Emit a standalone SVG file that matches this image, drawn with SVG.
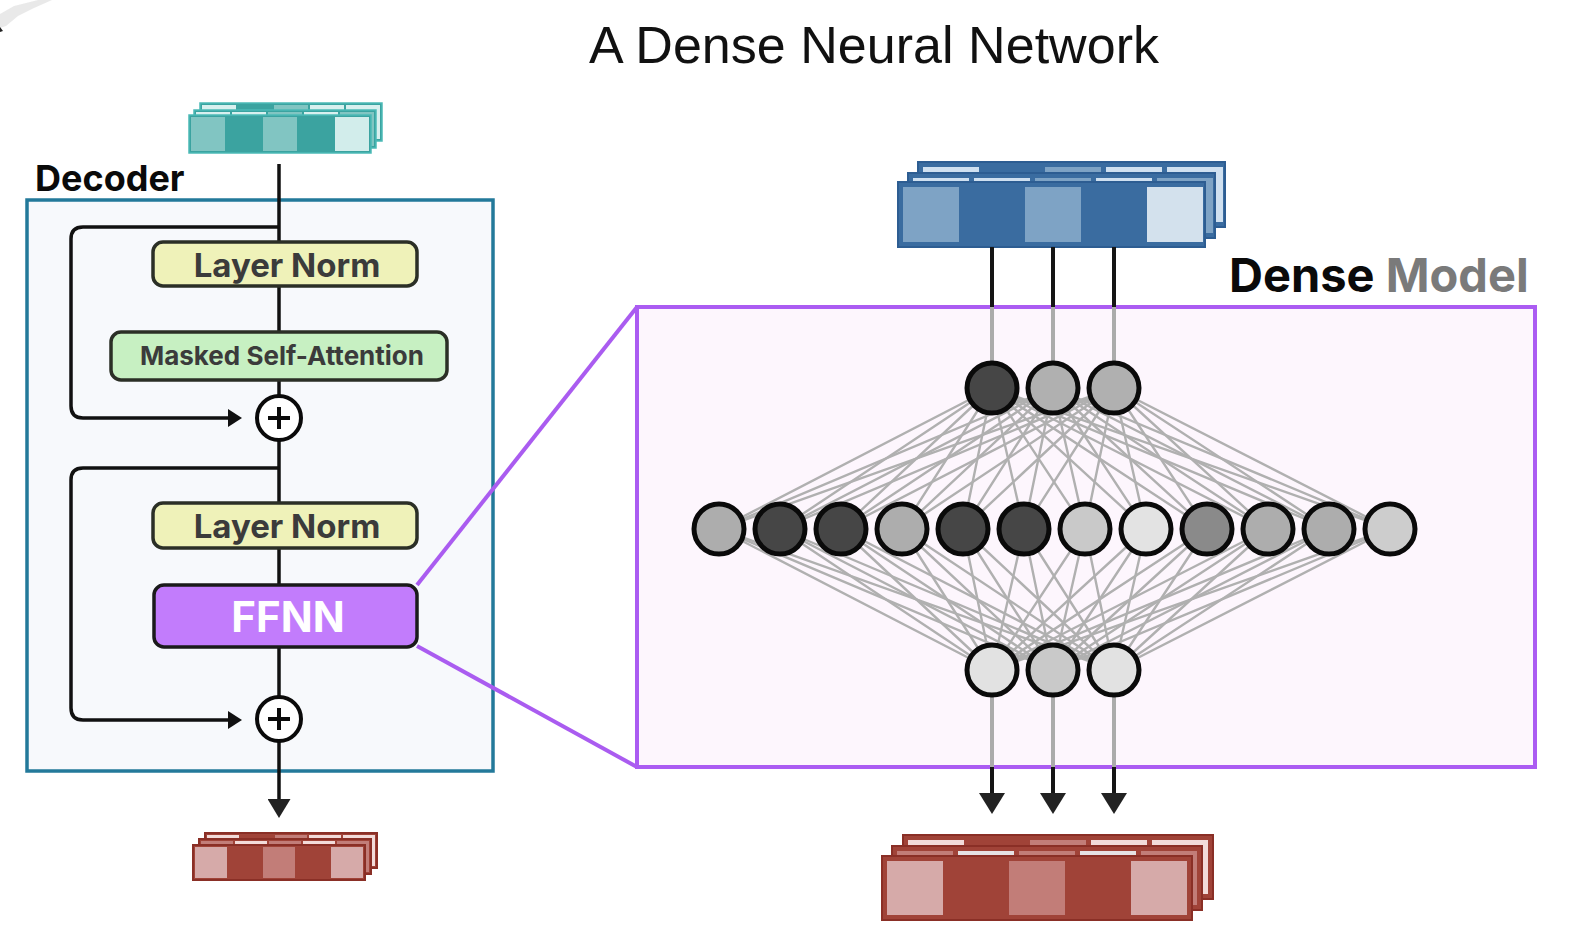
<svg xmlns="http://www.w3.org/2000/svg" width="1590" height="931" viewBox="0 0 1590 931">
<style>
.title{font-family:"Liberation Sans",Arial,sans-serif;font-size:52px;fill:#111}
.lbl{font-family:Inter,"Liberation Sans",Arial,sans-serif;font-weight:700;fill:#3b3b3b;text-anchor:middle}
.box{stroke:#2b2f26;stroke-width:3.5}
.ln{stroke:#111;stroke-width:3.5;fill:none}
.gry{stroke:#b0b0b0;stroke-width:2.4;fill:none}
.vg{stroke:#ababab;stroke-width:4;fill:none}
.vb{stroke:#151515;stroke-width:4;fill:none}
.nd{stroke:#0a0a0a;stroke-width:5}
.pur{stroke:#aa5cf0;stroke-width:4;fill:none}
.b-bg{fill:#3a6ca0;stroke:#2d5d92;stroke-width:2}
.b-d{fill:#3a6ca0}.b-m{fill:#7ea3c5}.b-l{fill:#d3e1ed}.b-s{fill:#cfe0f0}
.t-bg{fill:#3ba3a0;stroke:#4cbab7;stroke-width:1.5}
.t-d{fill:#3ba3a0}.t-m{fill:#81c5c2}.t-l{fill:#d2edeb}.t-s{fill:#d8f0ef}
.r-bg{fill:#a04338;stroke:#8a2f26;stroke-width:2}
.r-d{fill:#a04338}.r-m{fill:#c27d78}.r-l{fill:#d6aaa9}.r-s{fill:#f2dbd9}
</style>
<defs>
<marker id="ahS" markerUnits="userSpaceOnUse" markerWidth="14" markerHeight="18" refX="0" refY="9" orient="auto"><path d="M0,0 L14,9 L0,18 z" fill="#111"/></marker>
<marker id="ahM" markerUnits="userSpaceOnUse" markerWidth="19" markerHeight="23" refX="0" refY="11.5" orient="auto"><path d="M0,0 L19,11.5 L0,23 z" fill="#222"/></marker>
<marker id="ahL" markerUnits="userSpaceOnUse" markerWidth="21" markerHeight="26" refX="0" refY="13" orient="auto"><path d="M0,0 L21,13 L0,26 z" fill="#222"/></marker>
</defs>
<rect width="1590" height="931" fill="#fff"/>
<path d="M0,14 L14,6 L38,0 L52,0 L34,8 L18,16 L6,26 L0,28 z" fill="#e0e0e0" opacity="0.7"/>
<path d="M0,27 L3,31 L0,32 z" fill="#222"/>

<text class="title" x="874" y="63" text-anchor="middle" textLength="570">A Dense Neural Network</text>

<!-- Decoder -->
<g id="decoder">
<text x="35" y="191" font-family="Inter,'Liberation Sans',Arial,sans-serif" font-weight="700" font-size="36" fill="#0a0a0a">Decoder</text>
<rect x="27" y="200" width="466" height="571" fill="#f7f9fc" stroke="#23799a" stroke-width="3.5"/>
</g>

<!-- input teal tensor -->
<g id="input-tensor">
<g transform="translate(200,103)"><rect class="t-bg" width="182" height="38"/><rect class="t-s" x="2" y="2" width="34" height="34"/><rect class="t-d" x="38" y="2" width="34" height="34"/><rect class="t-m" x="74" y="2" width="34" height="34"/><rect class="t-s" x="110" y="2" width="34" height="34"/><rect class="t-s" x="146" y="2" width="34" height="34"/></g>
<g transform="translate(194,110)"><rect class="t-bg" width="182" height="38"/><rect class="t-s" x="2" y="2" width="34" height="34"/><rect class="t-s" x="38" y="2" width="34" height="34"/><rect class="t-m" x="74" y="2" width="34" height="34"/><rect class="t-s" x="110" y="2" width="34" height="34"/><rect class="t-m" x="146" y="2" width="34" height="34"/></g>
<g transform="translate(189,115)"><rect class="t-bg" width="182" height="38"/><rect class="t-m" x="2" y="2" width="34" height="34"/><rect class="t-m" x="74" y="2" width="34" height="34"/><rect class="t-l" x="146" y="2" width="34" height="34"/></g>
</g>

<!-- decoder connectors -->
<g id="decoder-connectors">
<path class="ln" d="M279,164 V799" marker-end="url(#ahM)"/>
<path class="ln" d="M279,227 H83 Q71,227 71,239 V406 Q71,418 83,418 H228" marker-end="url(#ahS)"/>
<path class="ln" d="M279,468 H83 Q71,468 71,480 V708 Q71,720 83,720 H228" marker-end="url(#ahS)"/>
</g>

<g id="layernorm1"><rect class="box" x="153" y="242" width="264" height="44" rx="10" fill="#eff2b9"/><text class="lbl" x="287" y="277" font-size="33">Layer Norm</text></g>
<g id="masked-attn"><rect class="box" x="111" y="332" width="336" height="48" rx="10" fill="#c7f0c2"/><text class="lbl" x="282" y="365" font-size="26">Masked Self-Attention</text></g>
<g id="add1"><circle cx="279" cy="418" r="22" fill="#fff" stroke="#0a0a0a" stroke-width="4"/><path d="M268,418 H290 M279,407 V429" stroke="#0a0a0a" stroke-width="4"/></g>
<g id="layernorm2"><rect class="box" x="153" y="503" width="264" height="45" rx="10" fill="#eff2b9"/><text class="lbl" x="287" y="538" font-size="33">Layer Norm</text></g>
<g id="ffnn"><rect x="154" y="585" width="263" height="62" rx="10" fill="#c27cfc" stroke="#1a1a1a" stroke-width="3.5"/><text x="288" y="632" font-family="Inter,'Liberation Sans',Arial,sans-serif" font-weight="700" font-size="42" fill="#fff" text-anchor="middle">FFNN</text></g>
<g id="add2"><circle cx="279" cy="719" r="22" fill="#fff" stroke="#0a0a0a" stroke-width="4"/><path d="M268,719 H290 M279,708 V730" stroke="#0a0a0a" stroke-width="4"/></g>

<!-- output red tensor small -->
<g id="output-tensor">
<g transform="translate(205,833)"><rect class="r-bg" width="172" height="35"/><rect class="r-s" x="2" y="2" width="32" height="31"/><rect class="r-d" x="36" y="2" width="32" height="31"/><rect class="r-m" x="70" y="2" width="32" height="31"/><rect class="r-s" x="104" y="2" width="32" height="31"/><rect class="r-s" x="138" y="2" width="32" height="31"/></g>
<g transform="translate(199,839)"><rect class="r-bg" width="172" height="35"/><rect class="r-m" x="2" y="2" width="32" height="31"/><rect class="r-s" x="36" y="2" width="32" height="31"/><rect class="r-m" x="70" y="2" width="32" height="31"/><rect class="r-s" x="104" y="2" width="32" height="31"/><rect class="r-m" x="138" y="2" width="32" height="31"/></g>
<g transform="translate(193,845)"><rect class="r-bg" width="172" height="35"/><rect class="r-l" x="2" y="2" width="32" height="31"/><rect class="r-m" x="70" y="2" width="32" height="31"/><rect class="r-l" x="138" y="2" width="32" height="31"/></g>
</g>

<!-- zoom lines -->
<g id="zoom-lines">
<path class="pur" d="M417,585 L637,307"/>
<path class="pur" d="M417,646 L637,767"/>
</g>

<!-- Dense model -->
<g id="dense-model">
<rect x="637" y="307" width="898" height="460" fill="#fdf6fd" stroke="#ab5cf2" stroke-width="4"/>
<text x="1229" y="292" font-family="Inter,'Liberation Sans',Arial,sans-serif" font-weight="700" font-size="47"><tspan fill="#0a0a0a">Dense</tspan><tspan fill="#7a7a7a"> Model</tspan></text>
</g>

<!-- blue tensor -->
<g id="dense-input">
<g transform="translate(918,162)"><rect class="b-bg" width="307" height="65"/><rect class="b-s" x="5" y="5" width="56" height="55"/><rect class="b-d" x="66" y="5" width="56" height="55"/><rect class="b-m" x="127" y="5" width="56" height="55"/><rect class="b-s" x="188" y="5" width="56" height="55"/><rect class="b-s" x="249" y="5" width="56" height="55"/></g>
<g transform="translate(908,173)"><rect class="b-bg" width="307" height="65"/><rect class="b-s" x="5" y="5" width="56" height="55"/><rect class="b-s" x="66" y="5" width="56" height="55"/><rect class="b-m" x="127" y="5" width="56" height="55"/><rect class="b-s" x="188" y="5" width="56" height="55"/><rect class="b-m" x="249" y="5" width="56" height="55"/></g>
<g transform="translate(898,182)"><rect class="b-bg" width="307" height="65"/><rect class="b-m" x="5" y="5" width="56" height="55"/><rect class="b-m" x="127" y="5" width="56" height="55"/><rect class="b-l" x="249" y="5" width="56" height="55"/></g>
</g>

<!-- connectors -->
<g id="connectors">
<path class="vb" d="M992,247 V307 M1053,247 V307 M1114,247 V307"/>
<path class="vg" d="M992,307 V388 M1053,307 V388 M1114,307 V388"/>
<path class="vg" d="M992,670 V767 M1053,670 V767 M1114,670 V767"/>
<path class="vb" d="M992,767 V793" marker-end="url(#ahL)"/>
<path class="vb" d="M1053,767 V793" marker-end="url(#ahL)"/>
<path class="vb" d="M1114,767 V793" marker-end="url(#ahL)"/>
<g class="gry">
<path d="M992,388 L719,529 M992,388 L780,529 M992,388 L841,529 M992,388 L902,529 M992,388 L963,529 M992,388 L1024,529 M992,388 L1085,529 M992,388 L1146,529 M992,388 L1207,529 M992,388 L1268,529 M992,388 L1329,529 M992,388 L1390,529"/>
<path d="M1053,388 L719,529 M1053,388 L780,529 M1053,388 L841,529 M1053,388 L902,529 M1053,388 L963,529 M1053,388 L1024,529 M1053,388 L1085,529 M1053,388 L1146,529 M1053,388 L1207,529 M1053,388 L1268,529 M1053,388 L1329,529 M1053,388 L1390,529"/>
<path d="M1114,388 L719,529 M1114,388 L780,529 M1114,388 L841,529 M1114,388 L902,529 M1114,388 L963,529 M1114,388 L1024,529 M1114,388 L1085,529 M1114,388 L1146,529 M1114,388 L1207,529 M1114,388 L1268,529 M1114,388 L1329,529 M1114,388 L1390,529"/>
<path d="M992,670 L719,529 M992,670 L780,529 M992,670 L841,529 M992,670 L902,529 M992,670 L963,529 M992,670 L1024,529 M992,670 L1085,529 M992,670 L1146,529 M992,670 L1207,529 M992,670 L1268,529 M992,670 L1329,529 M992,670 L1390,529"/>
<path d="M1053,670 L719,529 M1053,670 L780,529 M1053,670 L841,529 M1053,670 L902,529 M1053,670 L963,529 M1053,670 L1024,529 M1053,670 L1085,529 M1053,670 L1146,529 M1053,670 L1207,529 M1053,670 L1268,529 M1053,670 L1329,529 M1053,670 L1390,529"/>
<path d="M1114,670 L719,529 M1114,670 L780,529 M1114,670 L841,529 M1114,670 L902,529 M1114,670 L963,529 M1114,670 L1024,529 M1114,670 L1085,529 M1114,670 L1146,529 M1114,670 L1207,529 M1114,670 L1268,529 M1114,670 L1329,529 M1114,670 L1390,529"/>
</g>
</g>

<!-- neurons -->
<g id="layer-in">
<circle class="nd" cx="992" cy="388" r="25" fill="#464646"/>
<circle class="nd" cx="1053" cy="388" r="25" fill="#b0b0b0"/>
<circle class="nd" cx="1114" cy="388" r="25" fill="#b0b0b0"/>
</g>
<g id="layer-hidden">
<circle class="nd" cx="719" cy="529" r="25" fill="#adadad"/>
<circle class="nd" cx="780" cy="529" r="25" fill="#464646"/>
<circle class="nd" cx="841" cy="529" r="25" fill="#464646"/>
<circle class="nd" cx="902" cy="529" r="25" fill="#adadad"/>
<circle class="nd" cx="963" cy="529" r="25" fill="#464646"/>
<circle class="nd" cx="1024" cy="529" r="25" fill="#464646"/>
<circle class="nd" cx="1085" cy="529" r="25" fill="#c9c9c9"/>
<circle class="nd" cx="1146" cy="529" r="25" fill="#e3e3e3"/>
<circle class="nd" cx="1207" cy="529" r="25" fill="#8a8a8a"/>
<circle class="nd" cx="1268" cy="529" r="25" fill="#adadad"/>
<circle class="nd" cx="1329" cy="529" r="25" fill="#adadad"/>
<circle class="nd" cx="1390" cy="529" r="25" fill="#cdcdcd"/>
</g>
<g id="layer-out">
<circle class="nd" cx="992" cy="670" r="25" fill="#e2e2e2"/>
<circle class="nd" cx="1053" cy="670" r="25" fill="#c9c9c9"/>
<circle class="nd" cx="1114" cy="670" r="25" fill="#e2e2e2"/>
</g>

<!-- big red output tensor -->
<g id="dense-output">
<g transform="translate(903,835)"><rect class="r-bg" width="310" height="64"/><rect class="r-s" x="5" y="5" width="56" height="54"/><rect class="r-d" x="66" y="5" width="56" height="54"/><rect class="r-m" x="127" y="5" width="56" height="54"/><rect class="r-s" x="188" y="5" width="56" height="54"/><rect class="r-s" x="249" y="5" width="56" height="54"/></g>
<g transform="translate(892,846)"><rect class="r-bg" width="310" height="64"/><rect class="r-m" x="5" y="5" width="56" height="54"/><rect fill="#e6e2e4" x="66" y="5" width="56" height="54"/><rect class="r-m" x="127" y="5" width="56" height="54"/><rect fill="#e6e2e4" x="188" y="5" width="56" height="54"/><rect class="r-m" x="249" y="5" width="56" height="54"/></g>
<g transform="translate(882,856)"><rect class="r-bg" width="310" height="64"/><rect class="r-l" x="5" y="5" width="56" height="54"/><rect class="r-m" x="127" y="5" width="56" height="54"/><rect class="r-l" x="249" y="5" width="56" height="54"/></g>
</g>
</svg>
